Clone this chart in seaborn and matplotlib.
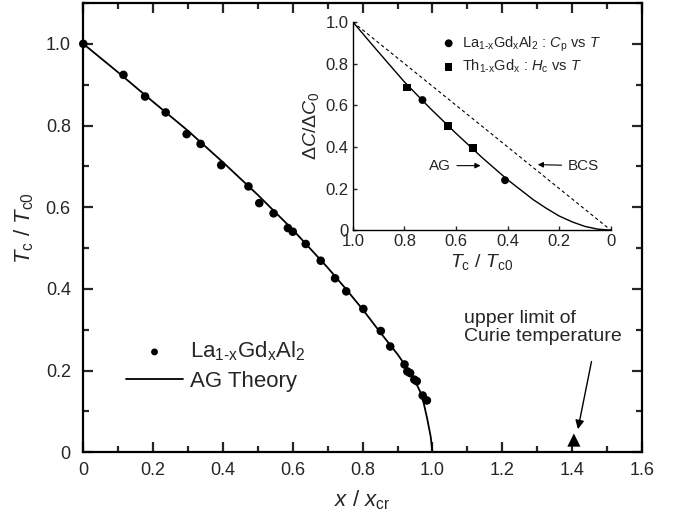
import numpy as np
import pandas as pd
import seaborn as sns
import matplotlib.pyplot as plt
from matplotlib.ticker import MultipleLocator, FuncFormatter


# main panel: La(1-x)Gd(x)Al2 data
x_data = [0.0, 0.115, 0.177, 0.236, 0.296, 0.336, 0.395, 0.473, 0.504, 0.545,
          0.586, 0.600, 0.637, 0.680, 0.721, 0.753, 0.802, 0.852, 0.879, 0.920,
          0.928, 0.936, 0.948, 0.955, 0.972, 0.984]
y_data = [1.0, 0.924, 0.871, 0.832, 0.779, 0.755, 0.703, 0.651, 0.610, 0.585,
          0.549, 0.540, 0.510, 0.469, 0.426, 0.394, 0.351, 0.297, 0.259, 0.215,
          0.198, 0.194, 0.178, 0.174, 0.139, 0.127]

# AG theory curve (main panel)
x_ag = [0.0, 0.1, 0.2, 0.3, 0.4, 0.5, 0.6, 0.7, 0.75, 0.8, 0.85, 0.9, 0.93,
        0.95, 0.965, 0.975, 0.985, 0.995, 1.0]
y_ag = [1.0, 0.930, 0.858, 0.787, 0.710, 0.630, 0.545, 0.452, 0.402, 0.350,
        0.294, 0.240, 0.203, 0.175, 0.148, 0.120, 0.082, 0.038, 0.0]

# upper limit of Curie temperature
x_curie = [1.405]
y_curie = [0.03]

# inset: specific heat jump
t_lagd = [0.73, 0.41]
c_lagd = [0.625, 0.24]
t_thgd = [0.79, 0.63, 0.535]
c_thgd = [0.685, 0.50, 0.395]
t_ag = [1.0, 0.9, 0.8, 0.7, 0.6, 0.5, 0.4, 0.3, 0.25, 0.2, 0.15, 0.1, 0.05, 0.0]
c_ag = [1.0, 0.855, 0.712, 0.585, 0.465, 0.350, 0.242, 0.146, 0.105, 0.068,
        0.040, 0.018, 0.005, 0.0]
t_bcs = [1.0, 0.0]
c_bcs = [1.0, 0.0]


def fmt(v, pos):
    return '0' if abs(v) < 1e-9 else '%.1f' % v


def style_axis(ax, major_x, major_y, lw, tsize, pad, full=True):
    ax.xaxis.set_major_locator(MultipleLocator(major_x))
    ax.xaxis.set_minor_locator(MultipleLocator(major_x / 2))
    ax.yaxis.set_major_locator(MultipleLocator(major_y))
    ax.yaxis.set_minor_locator(MultipleLocator(major_y / 2))
    ax.xaxis.set_major_formatter(FuncFormatter(fmt))
    ax.yaxis.set_major_formatter(FuncFormatter(fmt))
    ax.tick_params(which='both', direction='in', top=full, right=full,
                   width=lw, labelsize=tsize, pad=pad)
    ax.tick_params(which='major', length=7 if full else 3)
    ax.tick_params(which='minor', length=4 if full else 0)
    for s in ax.spines.values():
        s.set_linewidth(lw)
        s.set_color('black')
    if not full:
        ax.spines['top'].set_visible(False)
        ax.spines['right'].set_visible(False)


sns.set_theme(style='ticks')
plt.rcParams['font.family'] = ['Liberation Sans', 'DejaVu Sans']
plt.rcParams['mathtext.fontset'] = 'custom'
plt.rcParams['mathtext.rm'] = 'Liberation Sans'
plt.rcParams['mathtext.it'] = 'Liberation Sans:italic'
plt.rcParams['mathtext.bf'] = 'Liberation Sans:bold'

fig = plt.figure(figsize=(6.81, 5.22), dpi=100)
ax = fig.add_axes([0.1223, 0.1335, 0.8204, 0.8608])

main_pts = pd.DataFrame({'x': x_data, 'y': y_data})
main_ag = pd.DataFrame({'x': x_ag, 'y': y_ag})

sns.scatterplot(data=main_pts, x='x', y='y', ax=ax, color='black', s=38,
                edgecolor='none', label=r'La$_{\rm 1\text{-}x}$Gd$_{\rm x}$Al$_{\rm 2}$',
                zorder=3, clip_on=False)
sns.lineplot(data=main_ag, x='x', y='y', ax=ax, color='black', lw=1.3,
             sort=False, estimator=None, label='AG Theory')
sns.scatterplot(x=x_curie, y=y_curie, ax=ax, color='black', marker='^', s=90,
                edgecolor='none', zorder=3)

ax.set_xlim(0, 1.6)
ax.set_ylim(0, 1.1)
style_axis(ax, 0.2, 0.2, 1.6, 13, 7)
ax.tick_params(axis='y', pad=9)
ax.set_xlabel(r'$x$ / $x_{\rm cr}$', fontsize=16, labelpad=7)
ax.set_ylabel(r'$T_{\rm c}$ / $T_{\rm c0}$', fontsize=16, labelpad=7)

h, l = ax.get_legend_handles_labels()
ax.legend(h[:2], l[:2], loc='upper left', bbox_to_anchor=(0.04, 0.295),
          frameon=False, fontsize=16, handlelength=2.6, handletextpad=0.3,
          labelspacing=0.35, markerscale=0.8)

ax.annotate('', xy=(1.415, 0.05), xytext=(1.457, 0.229),
            arrowprops=dict(arrowstyle='-|>', color='black', lw=1.0,
                            mutation_scale=13))
ax.text(1.09, 0.306, 'upper limit of\nCurie temperature', fontsize=14,
        ha='left', va='center', linespacing=1.1)

# inset
ins = fig.add_axes([0.518, 0.559, 0.379, 0.399])
ins_la = pd.DataFrame({'t': t_lagd, 'c': c_lagd})
ins_th = pd.DataFrame({'t': t_thgd, 'c': c_thgd})
ins_ag = pd.DataFrame({'t': t_ag, 'c': c_ag})
ins_bcs = pd.DataFrame({'t': t_bcs, 'c': c_bcs})

sns.lineplot(data=ins_ag, x='t', y='c', ax=ins, color='black', lw=1.0,
             sort=False, estimator=None)
sns.lineplot(data=ins_bcs, x='t', y='c', ax=ins, color='black', lw=0.8,
             sort=False, estimator=None, linestyle=(0, (3, 2.5)))
sns.scatterplot(data=ins_la, x='t', y='c', ax=ins, color='black', marker='o', s=32,
                edgecolor='none', zorder=3,
                label=r'La$_{\rm 1\text{-}x}$Gd$_{\rm x}$Al$_{\rm 2}$ : $C_{\rm p}$ vs $T$')
sns.scatterplot(data=ins_th, x='t', y='c', ax=ins, color='black', marker='s', s=30,
                edgecolor='none', zorder=3,
                label=r'Th$_{\rm 1\text{-}x}$Gd$_{\rm x}$ : $H_{\rm c}$ vs $T$')
ins.set_xlim(1.0, 0.0)
ins.set_ylim(0, 1.0)
style_axis(ins, 0.2, 0.2, 1.0, 12, 3, full=False)
ins.set_xlabel(r'$T_{\rm c}$ / $T_{\rm c0}$', fontsize=14, labelpad=2)
ins.set_ylabel(r'$\Delta C/\Delta C_0$', fontsize=14, labelpad=3)
ins.legend(loc='upper right', bbox_to_anchor=(1.0, 0.99), frameon=False,
           fontsize=10.5, handletextpad=0.3, labelspacing=0.3,
           borderaxespad=0.3, handlelength=1.2)

ins.annotate('AG', xy=(0.494, 0.31), xytext=(0.662, 0.31), fontsize=11,
             ha='center', va='center',
             arrowprops=dict(arrowstyle='-|>', color='black', lw=0.8,
                             mutation_scale=8))
ins.annotate('BCS', xy=(0.294, 0.315), xytext=(0.107, 0.31), fontsize=11,
             ha='center', va='center',
             arrowprops=dict(arrowstyle='-|>', color='black', lw=0.8,
                             mutation_scale=8))

fig.savefig('out.png', dpi=100)
